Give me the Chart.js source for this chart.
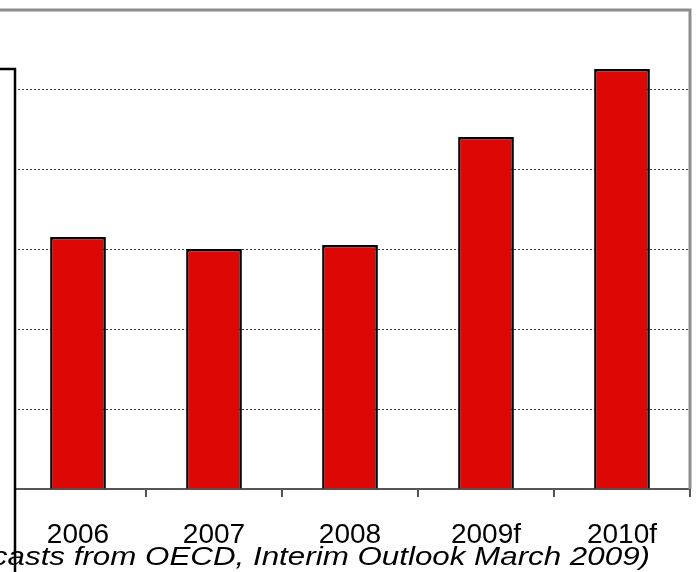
<!DOCTYPE html>
<html lang="en">
<head>
  <meta charset="UTF-8" />
  <title>OECD forecasts 2006-2010</title>
  <script src="https://cdn.jsdelivr.net/npm/chart.js"></script>
  <style>
    body { margin: 0; background: #fff; }
    canvas { display: block; }
  </style>
</head>
<body>
  <canvas id="grafico" width="699" height="572"></canvas>
  <script>
    // data (y labels are cropped away, so units are estimated)
    const years = ["2006", "2007", "2008", "2009f", "2010f"];
    const values = [6.3, 6.0, 6.1, 8.8, 10.5];
    const yTicks = [0, 2, 4, 6, 8, 10];
    const yMax = 10.5;
    const footnote = "(Forecasts from OECD, Interim Outlook March 2009)";

    // frame, y axis line and the footnote, drawn on top of the chart
    const marco = {
      id: "marco",
      afterDraw(chart) {
        const ctx = chart.ctx;
        const a = chart.chartArea;
        ctx.save();
        // the axis sits a few px right of the first category edge
        ctx.fillStyle = "#fff";
        ctx.fillRect(a.left - 1, a.top, 15 - a.left, a.bottom - a.top + 2);

        ctx.strokeStyle = "#8c8c8c";
        ctx.lineWidth = 3;
        ctx.beginPath();
        ctx.moveTo(0, 10);
        ctx.lineTo(a.right, 10);
        ctx.lineTo(a.right, a.bottom);
        ctx.stroke();

        ctx.strokeStyle = "#000";
        ctx.lineWidth = 2.5;
        ctx.beginPath();
        ctx.moveTo(0, a.top);
        ctx.lineTo(15, a.top);
        ctx.lineTo(15, chart.height);
        ctx.stroke();

        ctx.font = 'italic 26px "Liberation Sans", Arial, sans-serif';
        ctx.textAlign = "right";
        ctx.textBaseline = "alphabetic";
        ctx.fillStyle = "#000";
        ctx.translate(650, 565);
        ctx.scale(1.205, 1);
        ctx.fillText(footnote, 0, 0);
        ctx.restore();
      }
    };

    new Chart(document.getElementById("grafico"), {
      type: "bar",
      data: {
        labels: years,
        datasets: [{
          data: values,
          backgroundColor: "#dd0806",
          borderColor: "#000",
          borderWidth: 2.5,
          barPercentage: 0.41,
          categoryPercentage: 1.0
        }]
      },
      plugins: [marco],
      options: {
        responsive: false,
        animation: false,
        layout: { padding: { top: 69, right: 9, left: 0, bottom: 0 } },
        plugins: {
          legend: { display: false },
          tooltip: { enabled: false }
        },
        scales: {
          x: {
            afterFit: s => { s.height = 83; },
            grid: {
              drawOnChartArea: false,
              drawTicks: true,
              tickLength: 8,
              lineWidth: 2,
              color: c => c.index === 0 ? "rgba(0,0,0,0)" : "#555"
            },
            border: { display: true, color: "#555", width: 2 },
            ticks: {
              color: "#000",
              font: { family: '"Liberation Sans", Arial, sans-serif', size: 28 },
              padding: 21,
              maxRotation: 0,
              autoSkip: false
            }
          },
          y: {
            min: 0,
            max: yMax,
            afterFit: s => { s.width = 10; },
            afterBuildTicks: s => { s.ticks = yTicks.map(v => ({ value: v })); },
            ticks: { display: false },
            border: { display: false, dash: [2, 2] },
            grid: {
              drawTicks: false,
              lineWidth: 1,
              color: c => c.tick && c.tick.value === 0 ? "rgba(0,0,0,0)" : "#404040"
            }
          }
        }
      }
    });
  </script>
</body>
</html>
